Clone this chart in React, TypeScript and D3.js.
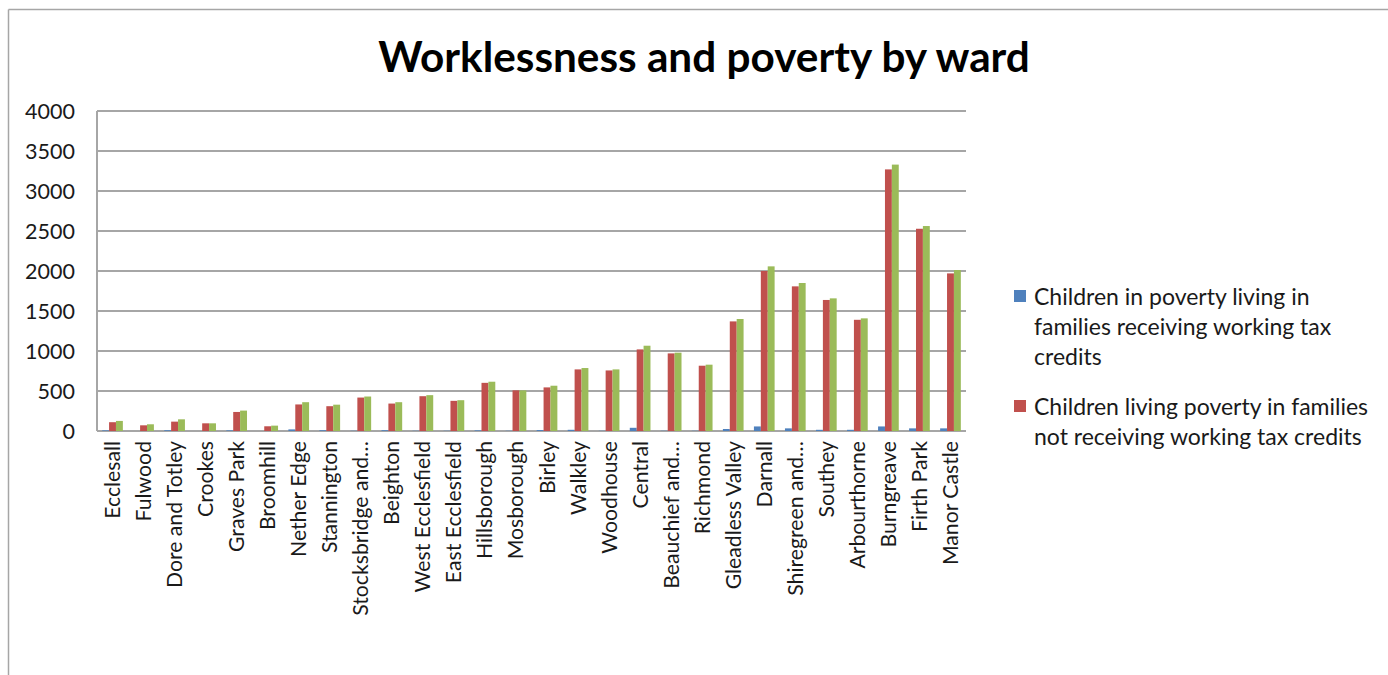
import React from "react";
import * as d3 from "d3";

const categories = [
  "Ecclesall", "Fulwood", "Dore and Totley", "Crookes", "Graves Park", "Broomhill",
  "Nether Edge", "Stannington", "Stocksbridge and…", "Beighton", "West Ecclesfield",
  "East Ecclesfield", "Hillsborough", "Mosborough", "Birley", "Walkley", "Woodhouse",
  "Central", "Beauchief and…", "Richmond", "Gleadless Valley", "Darnall",
  "Shiregreen and…", "Southey", "Arbourthorne", "Burngreave", "Firth Park", "Manor Castle",
];

const receivingWTC = [8, 0, 10, 0, 8, 0, 20, 10, 3, 10, 3, 3, 8, 3, 12, 15, 3, 40, 3, 3, 25, 57, 33, 15, 15, 57, 33, 33];
const notReceivingWTC = [110, 71, 117, 96, 238, 59, 332, 310, 418, 343, 435, 377, 602, 508, 545, 770, 757, 1020, 970, 816, 1370, 2000, 1808, 1638, 1390, 3270, 2528, 1970];
const total = [126, 84, 146, 96, 255, 67, 360, 329, 431, 360, 448, 385, 616, 508, 566, 787, 770, 1066, 979, 829, 1400, 2058, 1850, 1658, 1408, 3330, 2562, 2012];

const yTicks = [0, 500, 1000, 1500, 2000, 2500, 3000, 3500, 4000];

const seriesNames = [
  ["Children in poverty living in", "families receiving working tax", "credits"],
  ["Children living poverty in families", "not receiving working tax credits"],
];
const seriesColors = ["#4F81BD", "#C0504D", "#9BBB59"];

const FONT = "Lato, 'Open Sans', sans-serif";

export default function App() {
  const left = 97, right = 966, top = 111, bottom = 431;
  const x = d3.scaleBand<string>().domain(categories).range([left, right]).paddingInner(0).paddingOuter(0);
  const y = d3.scaleLinear().domain([0, 4000]).range([bottom, top]);
  const series = [receivingWTC, notReceivingWTC, total];
  const inner = d3.scaleBand<number>().domain([0, 1, 2]).range([0, x.bandwidth()]).paddingInner(0).paddingOuter(0.75);

  return (
    <svg width={1388} height={675} style={{ position: "absolute", left: 0, top: 0, background: "#fff" }}>
      <rect x={0} y={0} width={1388} height={675} fill="#fff" />
      {/* frame */}
      <line x1={8.5} y1={9.5} x2={1388} y2={9.5} stroke="#A6A6A6" strokeWidth={1.5} />
      <line x1={8.5} y1={9.5} x2={8.5} y2={675} stroke="#A6A6A6" strokeWidth={1.5} />

      <text x={704} y={72} textAnchor="middle" fontFamily={FONT} fontWeight={700} fontSize={42.3} fill="#000">
        Worklessness and poverty by ward
      </text>

      {/* gridlines */}
      {yTicks.map((t) => (
        <g key={t}>
          <line x1={left} x2={right} y1={y(t)} y2={y(t)} stroke="#A6A6A6" strokeWidth={2} />
          <text x={75} y={y(t)} dy="0.35em" textAnchor="end" fontFamily={FONT} fontSize={21.5} fill="#1a1a1a">
            {t}
          </text>
        </g>
      ))}
      <line x1={left} x2={left} y1={top} y2={bottom} stroke="#A6A6A6" strokeWidth={2} />

      {/* bars */}
      {categories.map((c, i) => (
        <g key={c}>
          {series.map((s, k) => {
            const v = s[i];
            if (v <= 0) return null;
            return (
              <rect
                key={k}
                x={(x(c) as number) + (inner(k) as number)}
                y={y(v)}
                width={inner.bandwidth()}
                height={bottom - y(v)}
                fill={seriesColors[k]}
              />
            );
          })}
        </g>
      ))}

      {/* x labels */}
      {categories.map((c) => {
        const cx = (x(c) as number) + x.bandwidth() / 2;
        return (
          <text
            key={c}
            transform={`translate(${cx + 7.5},${441}) rotate(-90)`}
            textAnchor="end"
            fontFamily={FONT}
            fontSize={21.2}
            fill="#1a1a1a"
          >
            {c}
          </text>
        );
      })}

      {/* legend */}
      {seriesNames.map((lines, k) => {
        const y0 = k === 0 ? 297 : 407;
        return (
          <g key={k}>
            <rect x={1014} y={y0 - 7} width={12} height={12} fill={seriesColors[k]} />
            {lines.map((ln, j) => (
              <text key={j} x={1034} y={y0 + j * 30} dy="0.35em" fontFamily={FONT} fontSize={23} fill="#1a1a1a">
                {ln}
              </text>
            ))}
          </g>
        );
      })}
    </svg>
  );
}
